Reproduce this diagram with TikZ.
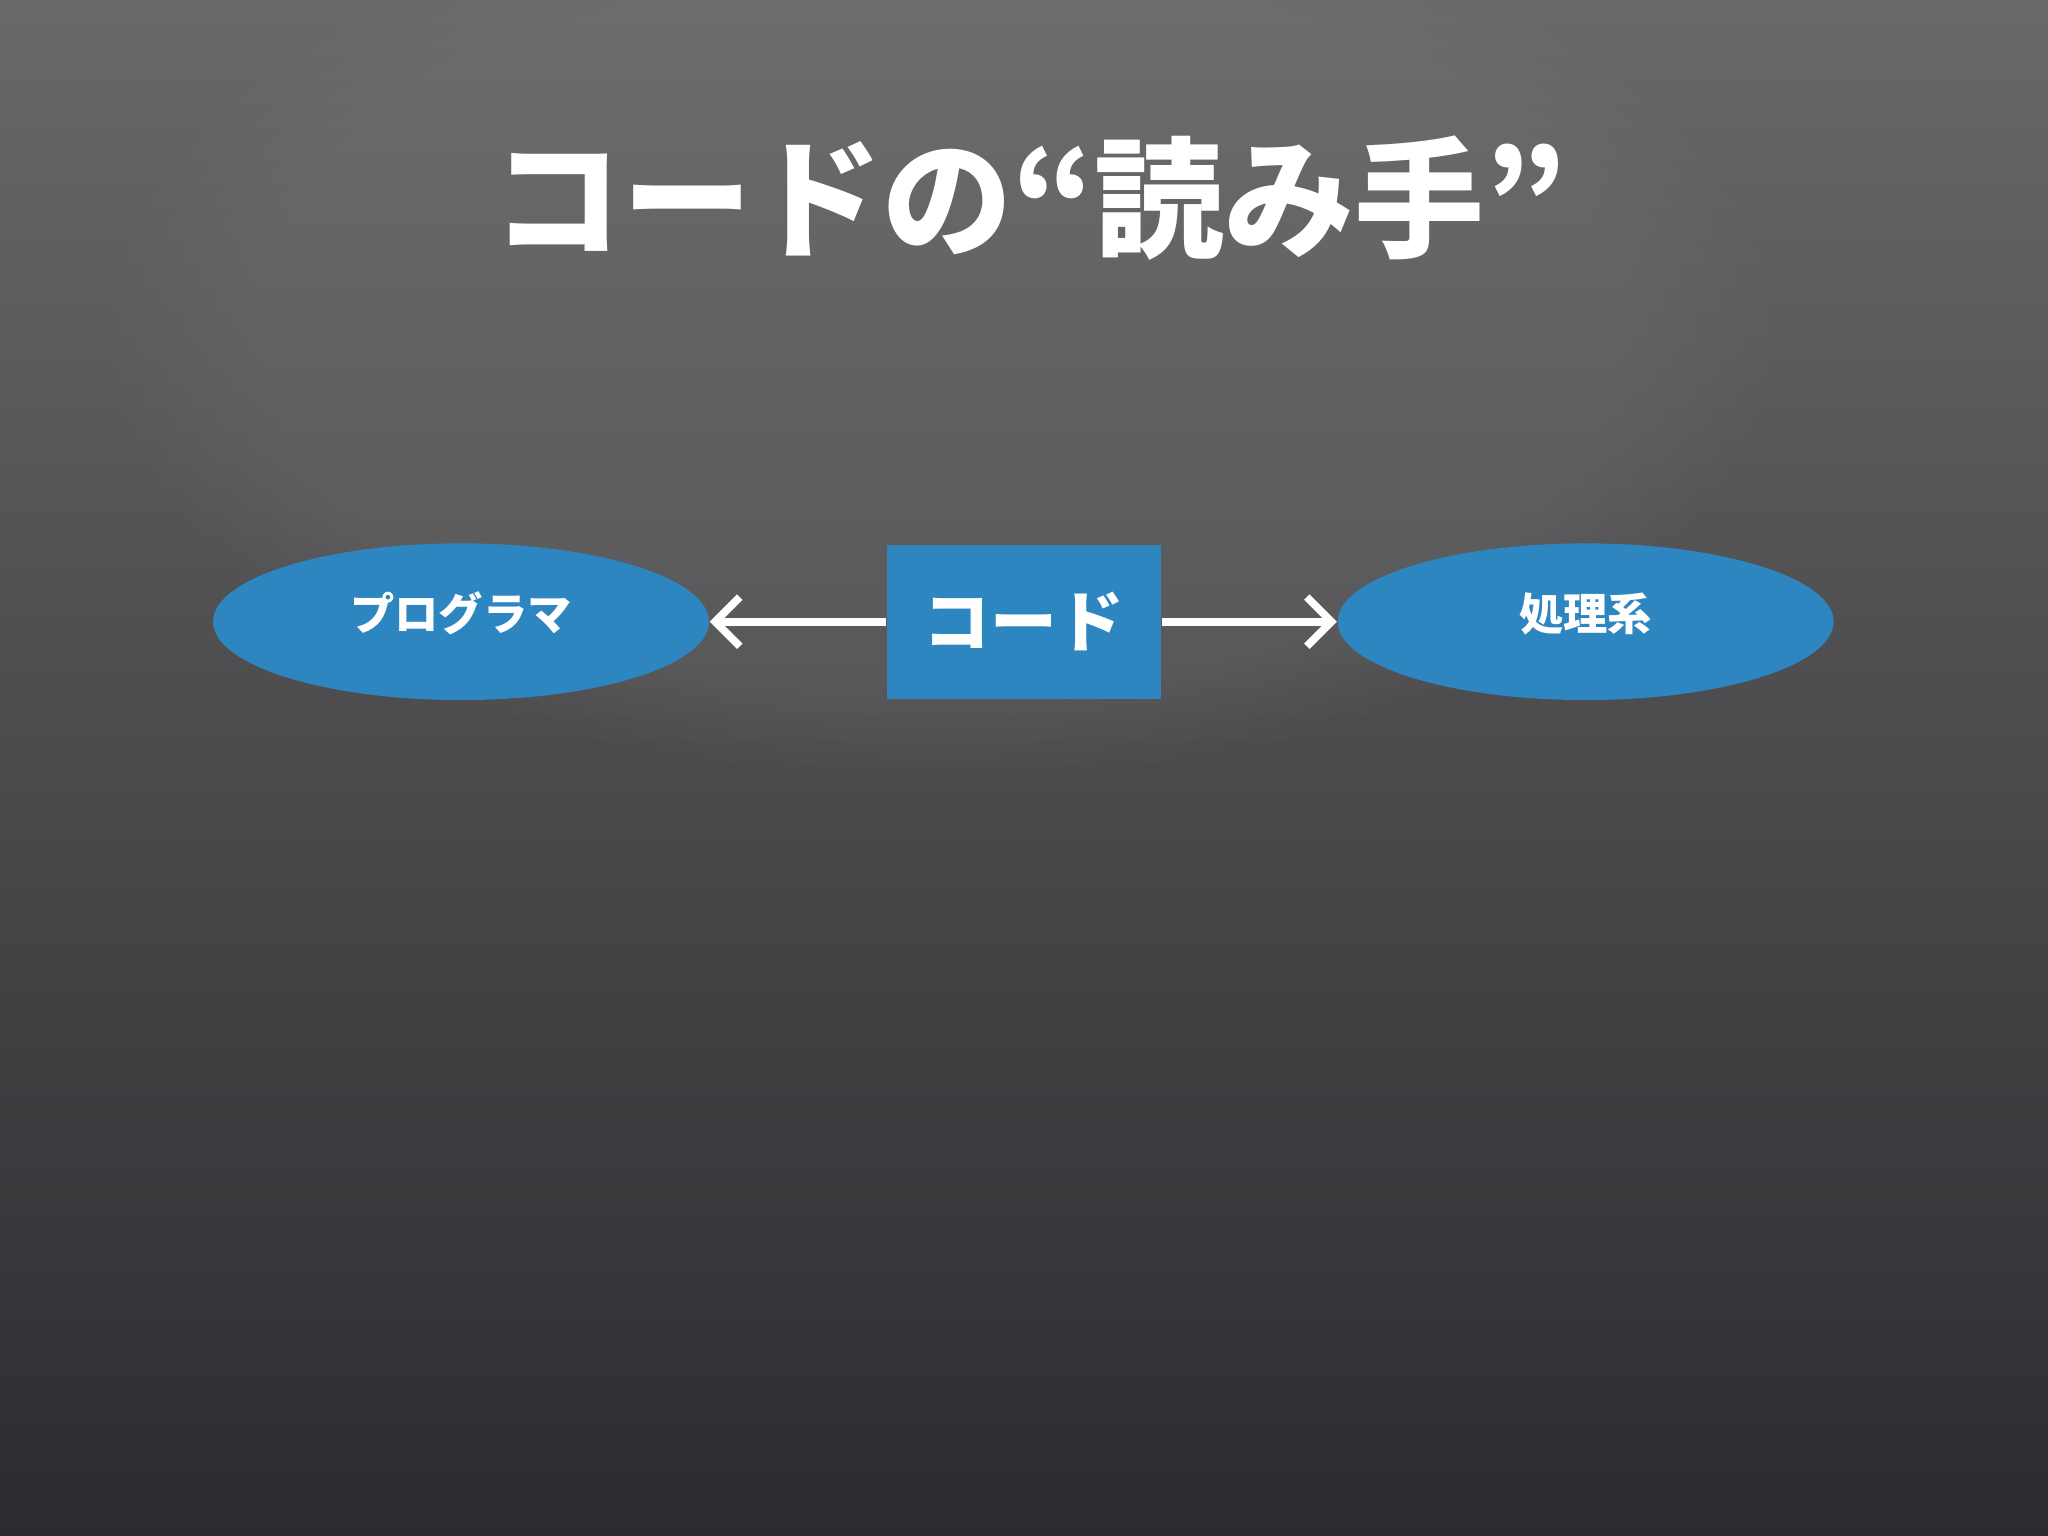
\documentclass[tikz,border=0pt]{standalone}
\usepackage{fontspec}
\newfontfamily\cjk{Noto Sans CJK JP}
\usetikzlibrary{shapes.geometric,arrows.meta,shadings,fadings}
\definecolor{nodeblue}{RGB}{46,134,193}
\definecolor{bgtop}{RGB}{120,120,120}
\definecolor{bgbot}{RGB}{44,43,47}
\tikzset{
  blob/.style={ellipse,fill=nodeblue,minimum width=4.96cm,minimum height=1.567cm,inner sep=0,text=white,font=\cjk\bfseries\fontsize{12.6pt}{15pt}\selectfont},
  codebox/.style={rectangle,fill=nodeblue,minimum width=2.743cm,minimum height=1.541cm,inner sep=0,text=white,font=\cjk\bfseries\fontsize{19pt}{22pt}\selectfont},
  link/.style={draw=white,line width=2.2pt,-{Straight Barb[length=7pt,width=14pt,line width=2.2pt]}}
}
\begin{document}
\begin{tikzpicture}[x=0.013061cm,y=-0.013061cm]
\useasboundingbox (0,0) rectangle (1568,1176);
\shade[top color=bgtop!80!bgbot, bottom color=bgbot] (0,0) rectangle (1568,1176);
\fill[bgtop,opacity=0.25,path fading=circle with fuzzy edge 20 percent] (720,250) ellipse (650 and 350);
\node[text=white,font=\cjk\bfseries\fontsize{37pt}{44pt}\selectfont] (title) at (788,152) {コードの“読み手”};
\node[blob] (prog) at (353,476) {\raisebox{6pt}{プログラマ}};
\node[codebox] (code) at (784,476) {コード};
\node[blob] (proc) at (1214,476) {\raisebox{6pt}{処理系}};
\draw[link] (code.west) -- (prog.east);
\draw[link] (code.east) -- (proc.west);
\end{tikzpicture}
\end{document}
